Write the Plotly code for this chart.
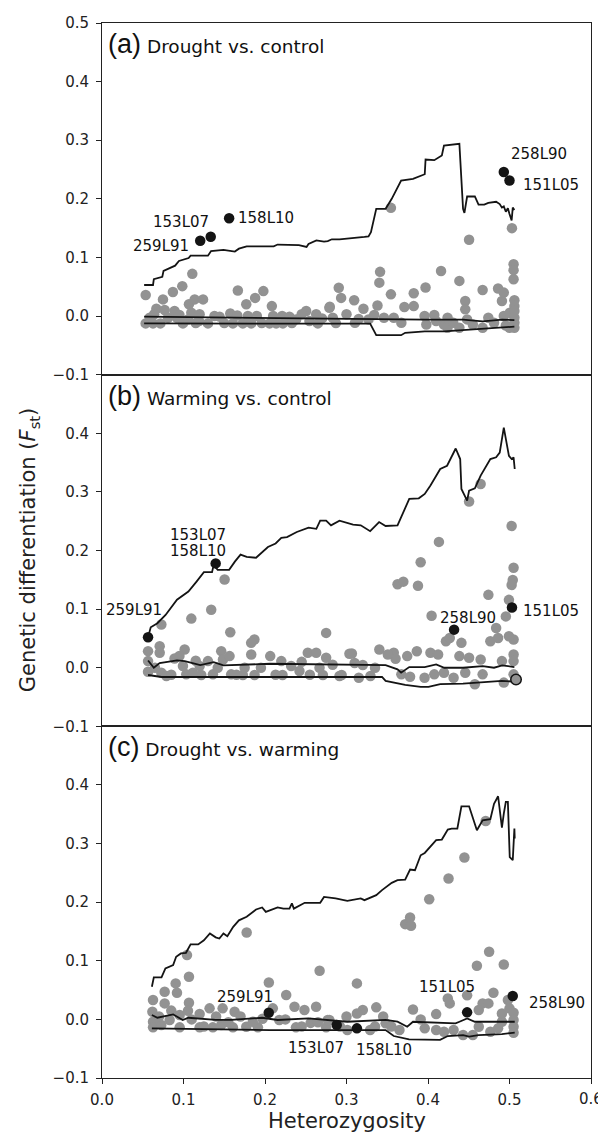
import plotly.graph_objects as go
from plotly.subplots import make_subplots

# ---------------- DATA ----------------
x_ticks = [0.0, 0.1, 0.2, 0.3, 0.4, 0.5, 0.6]
x_tick_labels = ["0.0", "0.1", "0.2", "0.3", "0.4", "0.5", "0.6"]
y_ticks_top = [-0.1, 0.0, 0.1, 0.2, 0.3, 0.4, 0.5]
y_ticks_other = [-0.1, 0.0, 0.1, 0.2, 0.3, 0.4]
panel_titles = ["(a)", "(b)", "(c)"]
panel_subtitles = ["Drought vs. control", "Warming vs. control", "Drought vs. warming"]

# Panel (a) Drought vs. control
a_gray = [(0.0536,0.0358),(0.0536,-0.0125),(0.0585,-0.003),(0.0626,-0.0125),(0.0667,0.0125),(0.0716,-0.0125),
          (0.0748,0.0284),(0.0769,0.0102),(0.081,-0.003),(0.087,0.041),(0.089,0.0085),(0.092,-0.003),
          (0.0985,0.051),(0.0993,-0.0125),(0.1108,0.072),(0.1067,0.02),(0.1137,0.0284),(0.1096,0.0057),
          (0.1055,-0.006),(0.119,-0.0085),(0.124,0.0284),(0.130,-0.0125),(0.1198,0.003),(0.1443,-0.001),
          (0.1574,0.0045),(0.1606,-0.0125),(0.1667,0.0437),(0.177,0.02),(0.1728,-0.0125),(0.1879,0.031),
          (0.198,0.0426),(0.1831,-0.0125),(0.179,0.0),(0.2084,0.017),(0.2056,-0.0125),(0.2137,-0.0125),
          (0.221,0.0),(0.230,-0.001),(0.2219,-0.0125),(0.2505,0.0085),(0.2545,-0.0085),(0.2648,-0.0125),
          (0.2628,0.003),(0.279,0.014),(0.2832,-0.003),(0.2905,0.0483),(0.2934,0.031),(0.2382,-0.0057),
          (0.2795,0.016),(0.3094,0.027),(0.3104,-0.0114),(0.3208,0.0126),(0.327,-0.0057),(0.338,0.018),
          (0.3403,0.057),(0.3412,0.0754),(0.346,-0.003),(0.3545,0.1846),(0.3545,0.037),(0.358,-0.003),
          (0.3673,-0.0114),(0.371,0.0154),(0.3825,0.017),(0.3825,0.039),(0.3958,0.0),(0.397,0.0486),
          (0.398,-0.0143),(0.4077,0.0017),(0.416,0.077),(0.4196,-0.0143),(0.424,-0.02),(0.431,-0.0114),
          (0.4385,0.06),(0.4385,-0.02),(0.4457,0.0257),(0.4457,0.0114),(0.448,-0.0057),(0.4504,0.1303),
          (0.455,-0.0143),(0.467,0.0446),(0.467,-0.02),(0.474,-0.003),(0.481,-0.0114),(0.486,0.0469),
          (0.4907,0.0257),(0.493,0.04),(0.493,0.0),(0.4955,-0.016),(0.5003,0.0057),(0.503,0.150),
          (0.505,0.0886),(0.505,0.0783),(0.505,0.0629),(0.506,0.027),(0.506,0.017),(0.506,0.0086),
          (0.506,-0.003),(0.506,-0.0114),(0.506,-0.02),(0.500,-0.02),(0.424,-0.003),(0.41,-0.0086),
          (0.064,0.003),(0.095,0.002),(0.115,-0.012),(0.138,0.0),(0.150,-0.012),(0.166,0.001),
          (0.190,0.0),(0.196,-0.012),(0.210,0.0),(0.233,-0.012),(0.245,0.003),(0.270,-0.004),
          (0.287,-0.012),(0.300,0.003),(0.315,-0.005),(0.334,0.002)]
a_black_names = ["259L91", "153L07", "158L10", "258L90", "151L05"]
a_black = [(0.1205,0.1286),(0.1334,0.1354),(0.156,0.1669),(0.493,0.2457),(0.500,0.2314)]
a_upper = [(0.0517,0.053),(0.0626,0.053),(0.0636,0.063),(0.074,0.067),(0.0755,0.077),(0.085,0.083),
           (0.0897,0.086),(0.0944,0.094),(0.1063,0.099),(0.1087,0.103),(0.130,0.103),(0.1338,0.111),
           (0.149,0.113),(0.163,0.110),(0.168,0.115),(0.1775,0.119),(0.2107,0.119),(0.2155,0.122),
           (0.239,0.120),(0.2416,0.121),(0.251,0.118),(0.2534,0.123),(0.263,0.129),(0.2724,0.127),
           (0.277,0.128),(0.282,0.131),(0.2914,0.131),(0.301,0.132),(0.308,0.134),(0.322,0.135),
           (0.327,0.136),(0.330,0.143),(0.3365,0.183),(0.348,0.183),(0.3555,0.200),(0.367,0.231),
           (0.3816,0.234),(0.396,0.242),(0.397,0.267),(0.4077,0.266),(0.417,0.274),(0.4196,0.291),
           (0.4385,0.294),(0.443,0.183),(0.4447,0.176),(0.448,0.204),(0.4575,0.204),(0.462,0.190),
           (0.469,0.190),(0.474,0.193),(0.4836,0.195),(0.488,0.191),(0.4907,0.185),(0.493,0.187),
           (0.4955,0.178),(0.498,0.184),(0.500,0.174),(0.5026,0.163),(0.504,0.185),(0.506,0.181)]
a_median = [(0.0517,-0.001),(0.111,-0.002),(0.206,-0.003),(0.329,-0.005),(0.396,-0.006),(0.443,-0.006),
            (0.467,-0.009),(0.491,-0.006),(0.506,-0.007)]
a_lower = [(0.0517,-0.0126),(0.111,-0.0126),(0.206,-0.013),(0.329,-0.013),(0.3365,-0.0326),(0.367,-0.0326),
           (0.372,-0.0286),(0.396,-0.026),(0.42,-0.026),(0.443,-0.024),(0.481,-0.021),(0.506,-0.018)]
a_labels = [("259L91",0.1087,0.120,"right"),("153L07",0.1338,0.160,"right"),("158L10",0.1642,0.1669,"left"),
            ("258L90",0.4993,0.277,"left"),("151L05",0.5145,0.224,"left")]

# Panel (b) Warming vs. control
b_gray = [(0.0728,0.0736),(0.1096,0.0838),(0.134,0.099),(0.1574,0.0605),(0.187,0.048),(0.183,0.0424),
          (0.275,0.0594),(0.0565,0.0283),(0.0565,0.0113),(0.0565,-0.0068),(0.0708,0.0368),(0.0708,0.0255),
          (0.0728,-0.0085),(0.079,-0.014),(0.089,0.0158),(0.1014,0.031),(0.0993,0.003),(0.1034,-0.0113),
          (0.1116,-0.0085),(0.1198,0.003),(0.1218,-0.0125),(0.130,0.0113),(0.1361,-0.0113),(0.1463,0.0283),
          (0.1484,0.0141),(0.1565,0.0198),(0.1585,-0.0113),(0.1728,-0.0125),(0.1831,0.0226),(0.1872,-0.0125),
          (0.2064,0.0198),(0.220,0.0113),(0.2215,-0.0125),(0.2321,0.003),(0.2423,-0.0057),(0.2525,0.0255),
          (0.2628,0.0255),(0.2669,0.0),(0.275,0.017),(0.271,-0.0125),(0.294,-0.0125),(0.3036,0.0238),
          (0.1504,0.1506),(0.3066,0.0243),(0.3151,-0.017),(0.320,0.0045),(0.3403,0.031),(0.358,0.0254),
          (0.3602,0.0153),(0.3626,0.1424),(0.3697,0.1469),(0.3745,0.0198),(0.378,-0.0153),(0.3863,0.0282),
          (0.3877,0.140),(0.391,0.180),(0.403,0.0254),(0.4044,0.0887),(0.4124,0.0226),(0.4134,0.2147),
          (0.422,0.0452),(0.4196,-0.0085),(0.4267,0.0508),(0.441,0.0424),(0.4385,0.0198),(0.4457,-0.0085),
          (0.4504,0.2836),(0.4504,0.017),(0.4575,-0.0282),(0.4646,0.0141),(0.4646,0.3136),(0.4741,0.1243),
          (0.4765,0.0452),(0.4836,0.0678),(0.486,0.0508),(0.4907,0.0113),(0.493,-0.0254),(0.4955,0.0876),
          (0.4993,0.1158),(0.5026,0.2418),(0.505,0.1706),(0.504,0.1497),(0.5026,0.1412),(0.505,0.048),
          (0.505,0.0226),(0.505,0.0113),(0.505,-0.0113),(0.4993,0.0537),(0.467,-0.0113),(0.4314,-0.017),
          (0.3958,-0.017),(0.4077,-0.0113),(0.3673,-0.0113),(0.3507,0.0226),(0.3294,-0.0141),(0.2914,-0.0141),
          (0.065,0.0),(0.085,-0.012),(0.095,0.02),(0.115,0.012),(0.142,0.0),(0.165,-0.012),
          (0.175,0.0),(0.195,0.0),(0.213,-0.012),(0.245,0.010),(0.255,-0.012),(0.283,0.005),
          (0.310,0.008),(0.335,0.0)]
b_black_names = ["259L91", "153L07/158L10", "258L90", "151L05"]
b_black = [(0.0565,0.052),(0.1395,0.178),(0.432,0.065),(0.503,0.1028)]
b_open = [(0.508,-0.020)]
b_upper = [(0.0565,0.052),(0.0598,0.069),(0.068,0.076),(0.078,0.090),(0.092,0.116),(0.106,0.130),
           (0.116,0.147),(0.125,0.163),(0.135,0.163),(0.137,0.175),(0.142,0.167),(0.156,0.167),
           (0.163,0.181),(0.170,0.193),(0.1775,0.189),(0.189,0.1876),(0.2036,0.206),(0.213,0.212),
           (0.220,0.2215),(0.227,0.223),(0.239,0.2316),(0.2534,0.239),(0.263,0.237),(0.2677,0.251),
           (0.275,0.251),(0.281,0.243),(0.2914,0.251),(0.308,0.244),(0.3175,0.243),(0.329,0.233),
           (0.340,0.2486),(0.348,0.2418),(0.3626,0.243),(0.367,0.257),(0.377,0.288),(0.3887,0.289),
           (0.396,0.2966),(0.403,0.311),(0.415,0.339),(0.4234,0.3446),(0.434,0.374),(0.4395,0.356),
           (0.441,0.305),(0.448,0.285),(0.4504,0.302),(0.4575,0.306),(0.4646,0.3277),(0.4765,0.356),
           (0.4836,0.359),(0.488,0.367),(0.493,0.4096),(0.4993,0.3616),(0.5026,0.356),(0.505,0.359),
           (0.5064,0.339)]
b_median = [(0.0565,0.0124),(0.0636,0.0),(0.0707,0.008),(0.092,0.0124),(0.1016,0.0113),(0.1205,0.0045),
            (0.137,0.0096),(0.149,0.004),(0.206,0.0068),(0.301,0.0056),(0.348,0.0045),(0.3626,-0.0028),
            (0.367,-0.0085),(0.377,0.0011),(0.396,0.0011),(0.41,0.0056),(0.42,0.0),(0.443,0.0),
            (0.467,0.0028),(0.481,0.0),(0.491,0.004),(0.506,0.0011)]
b_lower = [(0.0565,-0.0124),(0.073,-0.0158),(0.206,-0.0158),(0.3436,-0.0158),(0.348,-0.0226),(0.372,-0.0294),
           (0.391,-0.0328),(0.4006,-0.0328),(0.415,-0.028),(0.443,-0.027),(0.4907,-0.0226),(0.5064,-0.0237)]
b_labels = [("259L91",0.0755,0.0989,"right"),("153L07",0.1182,0.227,"center"),("158L10",0.1182,0.199,"center"),
            ("258L90",0.4495,0.0847,"center"),("151L05",0.5145,0.096,"left")]

# Panel (c) Drought vs. warming
c_gray = [(0.1043,0.1097),(0.1067,0.0727),(0.0769,0.0472),(0.0904,0.0614),(0.092,0.0455),(0.0626,0.033),
          (0.0618,0.013),(0.0626,-0.004),(0.0626,-0.0136),(0.0769,0.0273),(0.0728,-0.0097),(0.083,-0.001),
          (0.0953,0.0074),(0.1067,0.0284),(0.1055,0.0148),(0.1198,0.0091),(0.132,0.0188),(0.136,-0.0136),
          (0.148,0.0188),(0.1627,0.013),(0.1606,-0.0136),(0.177,-0.0125),(0.1913,-0.0136),(0.2047,0.063),
          (0.2096,0.0188),(0.226,0.0415),(0.2362,0.0216),(0.2484,0.016),(0.2627,0.0216),(0.267,0.083),
          (0.238,-0.0136),(0.275,-0.0136),(0.279,-0.001),(0.1463,-0.0097),(0.1198,-0.0136),(0.0953,-0.0136),
          (0.1775,0.1483),(0.3128,0.0614),(0.320,0.016),(0.3365,0.0205),(0.3128,0.0102),(0.277,-0.001),
          (0.301,-0.018),(0.329,-0.018),(0.348,-0.0068),(0.365,-0.018),(0.372,0.1625),(0.378,0.1739),
          (0.3792,0.1597),(0.3816,0.017),(0.391,0.0),(0.4015,0.2051),(0.410,0.009),(0.410,-0.018),
          (0.4252,0.2403),(0.4243,0.0358),(0.4267,0.0273),(0.4314,-0.018),(0.4447,0.2761),(0.448,0.041),
          (0.443,-0.0267),(0.46,0.0915),(0.4623,0.016),(0.467,0.0273),(0.4708,0.3386),(0.475,0.1153),
          (0.4741,0.0273),(0.4803,0.0455),(0.4765,-0.021),(0.4907,-0.004),(0.493,0.0938),(0.4907,0.0102),
          (0.498,0.033),(0.500,0.0188),(0.505,0.0114),(0.505,-0.001),(0.505,-0.0125),(0.505,-0.0227),
          (0.4623,-0.0125),(0.4196,-0.021),(0.455,-0.0267),(0.486,-0.0153),(0.396,-0.0153),(0.2175,-0.001),
          (0.197,0.001),(0.256,-0.006),(0.292,-0.012),(0.355,-0.012),
          (0.070,0.005),(0.085,0.015),(0.110,0.0),(0.125,-0.012),(0.140,0.005),(0.155,-0.005),
          (0.170,0.005),(0.185,-0.004),(0.225,0.0),(0.245,-0.012),(0.265,-0.005),(0.300,0.005),
          (0.335,-0.012),(0.345,0.005)]
c_black_names = ["259L91", "153L07", "158L10", "151L05", "258L90"]
c_black = [(0.2046,0.0114),(0.288,-0.0097),(0.3128,-0.0153),(0.448,0.012),(0.504,0.0398)]
c_upper = [(0.0612,0.0557),(0.0636,0.0716),(0.073,0.0716),(0.0778,0.087),(0.0873,0.0926),(0.091,0.1068),
           (0.0968,0.1125),(0.103,0.1136),(0.1087,0.128),(0.118,0.128),(0.125,0.135),(0.1324,0.1466),
           (0.1395,0.14),(0.144,0.138),(0.149,0.1466),(0.1538,0.142),(0.161,0.158),(0.168,0.169),
           (0.1775,0.175),(0.189,0.1875),(0.1965,0.191),(0.201,0.1835),(0.2155,0.191),(0.2226,0.189),
           (0.230,0.189),(0.233,0.198),(0.2354,0.189),(0.2487,0.1989),(0.2677,0.1989),(0.2724,0.209),
           (0.2867,0.2063),(0.301,0.2023),(0.3175,0.2063),(0.322,0.2034),(0.3365,0.212),(0.3436,0.2205),
           (0.3555,0.233),(0.3626,0.2375),(0.372,0.2386),(0.378,0.2557),(0.384,0.2545),(0.391,0.280),
           (0.396,0.284),(0.405,0.297),(0.410,0.3057),(0.417,0.3068),(0.4243,0.3239),(0.429,0.3256),
           (0.436,0.3256),(0.441,0.3636),(0.4504,0.3636),(0.460,0.3227),(0.467,0.3398),(0.4765,0.3415),
           (0.481,0.368),(0.486,0.3807),(0.4907,0.327),(0.493,0.351),(0.4955,0.371),(0.498,0.371),
           (0.5003,0.277),(0.504,0.2716),(0.506,0.3256),(0.5064,0.3085)]
c_median = [(0.0612,0.0074),(0.068,0.0028),(0.0873,0.0085),(0.099,-0.001),(0.106,0.0028),(0.1395,-0.001),
            (0.1585,-0.001),(0.1965,0.0028),(0.2155,-0.001),(0.2534,0.0017),(0.301,-0.004),(0.348,-0.001),
            (0.3626,-0.004),(0.3745,-0.0125),(0.3816,-0.004),(0.4196,-0.0057),(0.4338,-0.0068),(0.4386,-0.004),
            (0.448,0.0017),(0.4575,-0.004),(0.481,-0.004),(0.5064,-0.004)]
c_lower = [(0.0612,-0.0153),(0.206,-0.0182),(0.348,-0.0182),(0.358,-0.0284),(0.3768,-0.034),(0.4148,-0.035),
           (0.4243,-0.0284),(0.443,-0.0267),(0.4504,-0.0295),(0.462,-0.0267),(0.4907,-0.025),(0.5064,-0.0227)]
c_labels = [("259L91",0.176,0.0386,"center"),("153L07",0.2625,-0.0494,"center"),("158L10",0.346,-0.0523,"center"),
            ("151L05",0.4233,0.0557,"center"),("258L90",0.5216,0.0284,"left")]

# ---------------- FIGURE ----------------
GRAY = "#929292"
BLACK = "#141414"
FONT = "DejaVu Sans"

fig = make_subplots(rows=3, cols=1, shared_xaxes=True, vertical_spacing=0)

panels = [
    (a_gray, a_black, a_upper, a_median, a_lower, a_labels, []),
    (b_gray, b_black, b_upper, b_median, b_lower, b_labels, b_open),
    (c_gray, c_black, c_upper, c_median, c_lower, c_labels, []),
]

def xs(pts):
    return [p[0] for p in pts]

def ys(pts):
    return [p[1] for p in pts]

for i, (gray, black, upper, median, lower, labels, opens) in enumerate(panels):
    row = i + 1
    fig.add_trace(go.Scatter(x=xs(gray), y=ys(gray), mode="markers",
                             marker=dict(color=GRAY, size=10.5, line=dict(width=0)),
                             showlegend=False), row=row, col=1)
    for line in (upper, median, lower):
        fig.add_trace(go.Scatter(x=xs(line), y=ys(line), mode="lines",
                                 line=dict(color=BLACK, width=1.8),
                                 showlegend=False), row=row, col=1)
    if opens:
        fig.add_trace(go.Scatter(x=xs(opens), y=ys(opens), mode="markers",
                                 marker=dict(color=GRAY, size=10.5, line=dict(color=BLACK, width=1.5)),
                                 showlegend=False), row=row, col=1)
    fig.add_trace(go.Scatter(x=xs(black), y=ys(black), mode="markers",
                             marker=dict(color=BLACK, size=10.5, line=dict(width=0)),
                             showlegend=False), row=row, col=1)
    yref = "y" if row == 1 else f"y{row}"
    xref = "x" if row == 1 else f"x{row}"
    for (txt, lx, ly, anc) in labels:
        fig.add_annotation(x=lx, y=ly, xref=xref, yref=yref, text=txt, showarrow=False,
                           xanchor=anc, yanchor="middle",
                           font=dict(family=FONT, size=15, color="#111"))
    fig.add_annotation(x=0.005, y=0.464, xref=xref, yref=yref,
                       text=f"<span style='font-family:Liberation Sans;font-size:27px'>{panel_titles[i]}</span> {panel_subtitles[i]}",
                       showarrow=False, xanchor="left", yanchor="middle",
                       font=dict(family=FONT, size=18.5, color="#111"))

axis_line = dict(showline=True, linecolor="#222", linewidth=1, mirror=True,
                 showgrid=False, zeroline=False)

# last x tick label sits past the figure edge (cut, as in the reference); plotly
# drops overflowing tick labels, so it is written as an annotation at that tick.
shown_x_labels = x_tick_labels[:-1] + [""]

for row in (1, 2, 3):
    fig.update_xaxes(range=[0, 0.6], tickvals=x_ticks, ticktext=shown_x_labels,
                     ticks="outside" if row == 3 else "", ticklen=5, tickcolor="#222",
                     showticklabels=(row == 3),
                     tickfont=dict(family=FONT, size=15, color="#222"),
                     ticklabelstandoff=3,
                     row=row, col=1, **axis_line)
    fig.update_yaxes(range=[-0.1, 0.5],
                     tickvals=y_ticks_top if row == 1 else y_ticks_other, tickformat=".1f",
                     ticks="outside", ticklen=5, tickcolor="#222",
                     tickfont=dict(family=FONT, size=15, color="#222"),
                     ticklabelstandoff=4,
                     row=row, col=1, **axis_line)

fig.add_annotation(x=x_ticks[-1], y=-0.0195, xref="x3", yref="paper",
                   text=x_tick_labels[-1], showarrow=False,
                   xanchor="center", yanchor="middle",
                   font=dict(family=FONT, size=15, color="#222"))

# The page body has an 8 px default margin, so the figure is sized and placed to
# land on the reference's pixels inside the 606 x 1141 window.
fig.add_annotation(x=-0.150, y=0.5, xref="paper", yref="paper", textangle=-90,
                   text="Genetic differentiation (<i>F</i><sub>st</sub>)", showarrow=False,
                   xanchor="center", yanchor="middle",
                   font=dict(family=FONT, size=21, color="#222"))
fig.add_annotation(x=0.5, y=-0.041, xref="paper", yref="paper",
                   text="Heterozygosity", showarrow=False,
                   xanchor="center", yanchor="middle",
                   font=dict(family=FONT, size=21, color="#222"))

fig.update_layout(width=590, height=1125,
                  margin=dict(l=94, r=6, t=13, b=55),
                  plot_bgcolor="white", paper_bgcolor="white")

fig.write_html("out.html")
